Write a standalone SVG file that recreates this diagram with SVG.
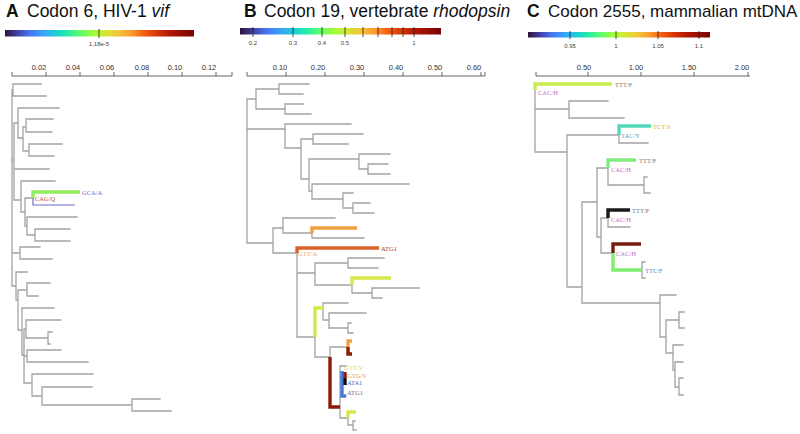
<svg xmlns="http://www.w3.org/2000/svg" width="800" height="434" viewBox="0 0 800 434">
<defs>
<linearGradient id="turbo" x1="0" y1="0" x2="1" y2="0">
<stop offset="0" stop-color="#30123b"/>
<stop offset="0.07" stop-color="#4145ab"/>
<stop offset="0.13" stop-color="#4675ed"/>
<stop offset="0.2" stop-color="#39a2fc"/>
<stop offset="0.27" stop-color="#1bcfd4"/>
<stop offset="0.33" stop-color="#24eca6"/>
<stop offset="0.4" stop-color="#61fc6c"/>
<stop offset="0.47" stop-color="#a4fc3b"/>
<stop offset="0.53" stop-color="#d1e834"/>
<stop offset="0.6" stop-color="#f3c63a"/>
<stop offset="0.67" stop-color="#fe9b2d"/>
<stop offset="0.73" stop-color="#f36315"/>
<stop offset="0.8" stop-color="#d93806"/>
<stop offset="0.87" stop-color="#b11901"/>
<stop offset="1" stop-color="#7a0403"/>
</linearGradient>
<style>
.title{font-family:"Liberation Sans",Arial,sans-serif;font-size:17.5px;fill:#111}
.lett{font-weight:bold}
.it{font-style:italic}
.cbl{font-family:"Liberation Sans",Arial,sans-serif;font-size:6px;fill:#444;text-anchor:middle}
.axl{font-family:"Liberation Sans",Arial,sans-serif;font-size:7.5px;fill:#333;text-anchor:middle}
.ax{stroke:#555;stroke-width:0.9;fill:none}
.tk{stroke:#222;stroke-width:0.8}
.br{stroke:#a3a3a3;stroke-width:1.3;fill:none;stroke-linecap:square}
.hl{fill:none;stroke-width:3.4;stroke-linecap:butt}
.lab{font-family:"Liberation Serif","Times New Roman",serif;font-size:6.5px}
</style>
</defs>

<!-- Titles -->
<text class="title" x="6" y="17"><tspan class="lett">A</tspan><tspan x="27">Codon 6, HIV-1 </tspan><tspan class="it">vif</tspan></text>
<text class="title" x="244" y="17"><tspan class="lett">B</tspan><tspan x="264">Codon 19, vertebrate </tspan><tspan class="it">rhodopsin</tspan></text>
<text class="title" x="527" y="17"><tspan class="lett">C</tspan><tspan x="548" style="font-size:17px">Codon 2555, mammalian mtDNA</tspan></text>

<!-- Colour bars -->
<g id="colorbarA">
<rect x="5" y="30" width="189" height="6.5" fill="url(#turbo)"/>
<line class="tk" x1="99" y1="29" x2="99" y2="38"/>
<text class="cbl" x="99" y="46">1.18e-5</text>
</g>
<g id="colorbarB">
<rect x="240" y="28" width="201" height="6.5" fill="url(#turbo)"/>
<g class="tk">
<line x1="253" y1="27" x2="253" y2="37"/><line x1="293" y1="27" x2="293" y2="37"/>
<line x1="322" y1="27" x2="322" y2="37"/><line x1="345" y1="27" x2="345" y2="37"/>
<line x1="363" y1="27" x2="363" y2="37"/><line x1="378" y1="27" x2="378" y2="37"/>
<line x1="392" y1="27" x2="392" y2="37"/><line x1="403" y1="27" x2="403" y2="37"/>
<line x1="414" y1="27" x2="414" y2="37"/>
</g>
<text class="cbl" x="253" y="45">0.2</text><text class="cbl" x="293" y="45">0.3</text>
<text class="cbl" x="322" y="45">0.4</text><text class="cbl" x="345" y="45">0.5</text>
<text class="cbl" x="414" y="45">1</text>
</g>
<g id="colorbarC">
<rect x="528" y="32" width="182" height="5.5" fill="url(#turbo)"/>
<g class="tk">
<line x1="570" y1="31" x2="570" y2="39"/><line x1="616" y1="31" x2="616" y2="39"/>
<line x1="658" y1="31" x2="658" y2="39"/><line x1="699" y1="31" x2="699" y2="39"/>
</g>
<text class="cbl" x="570" y="48">0.95</text><text class="cbl" x="616" y="48">1</text>
<text class="cbl" x="658" y="48">1.05</text><text class="cbl" x="699" y="48">1.1</text>
</g>

<!-- Scale axes -->
<g id="axisA">
<path class="ax" d="M12,76H232M12,72V76M46,72V76M80,72V76M114,72V76M148,72V76M182,72V76M216,72V76M232,72V76"/>
<text class="axl" x="39" y="70">0.02</text><text class="axl" x="73" y="70">0.04</text>
<text class="axl" x="107" y="70">0.06</text><text class="axl" x="142" y="70">0.08</text>
<text class="axl" x="175" y="70">0.10</text><text class="axl" x="209" y="70">0.12</text>
</g>
<g id="axisB">
<path class="ax" d="M247,76H485M247,72V76M286,72V76M325,72V76M364,72V76M403,72V76M442,72V76M481,72V76M485,72V76"/>
<text class="axl" x="280" y="70">0.10</text><text class="axl" x="318" y="70">0.20</text>
<text class="axl" x="357" y="70">0.30</text><text class="axl" x="396" y="70">0.40</text>
<text class="axl" x="435" y="70">0.50</text><text class="axl" x="474" y="70">0.60</text>
</g>
<g id="axisC">
<path class="ax" d="M536,76H750M536,72V76M588,72V76M641,72V76M694,72V76M748,72V76"/>
<text class="axl" x="584" y="70">0.50</text><text class="axl" x="636" y="70">1.00</text>
<text class="axl" x="689" y="70">1.50</text><text class="axl" x="742" y="70">2.00</text>
</g>

<!-- Tree A -->
<g id="connectors">
<g id="treeA">
<path class="br" d="M12,90V286
M12,90H13M13,84V96M13,84H41M13,96H46
M12,160H14M14,123V200
M14,123H18M18,108V138M18,108H59M18,138H23M23,127V151M23,127H26M26,119V132M26,119H53M26,132H52M23,151H29M29,144V156M29,144H62M29,156H54
M14,169H49
M14,200H21M21,181V212M21,181H55M21,212H25M25,198V226M25,198H33M25,226H27M27,217V235M27,217H77M27,235H35M35,229V241M35,229H70M35,241H70
M12,253H20M20,247V259M20,247H40M20,259H52
M12,286H16M16,272V300M16,272H27M16,300H18M18,290V330M18,290H27M27,283V296M27,283H50M27,296H38
M18,330H22M22,308V355M22,308H54M22,355H24M24,329V383
M24,329H26M26,320V338M26,320H61M26,338H48M48,332V344M48,332H52M48,344H50
M24,356H27M27,350V362M27,350H61M27,362H88
M24,383H32M32,374V396M32,374H93M32,396H42M42,387V405M42,387H92M42,405H132M132,399V411M132,399H160M132,411H171"/>
<path class="hl" stroke="#90ee60" d="M33,198V192H80"/>
<path fill="none" stroke="#6a6acc" stroke-width="1.2" d="M33,198V205H75"/>
</g>

<!-- Tree B -->
<g id="treeB">
<path class="br" d="M247,99V243
M247,99H256M256,89V109M256,89H279M279,84V94M279,84H309M279,94H303M256,109H285M285,104V114M285,104H303M285,114H311
M247,129H285M285,124V148M285,124H351M285,148H301M301,139V179M301,139H313M313,134V144M313,134H363M313,144H348
M301,179H309M309,159V191M309,159H359M359,154V169M359,154H390M359,169H368M368,164V174M368,164H388M368,174H390
M309,191H312M312,184V199M312,184H409M312,199H343M343,193V208M343,193H353M343,208H353M353,203V213M353,203H370M353,213H374
M247,243H273M273,228V253M273,228H283M283,218V233M283,218H335M283,233H312M312,233V238M312,238H364
M273,253H297M297,253V337
M297,273H315M315,263V285M315,263H348M348,258V268M348,258H384M348,268H378M315,285H352M352,285V293M352,293H372M372,288V298M372,288H419M372,298H382
M297,337H315M315,337V357
M323,303V320M323,303H348M323,320H329M329,313V328M329,313H366M329,328H348M348,323V333M348,323H351M348,333H353
M315,357H330M330,357V347H348
M340,366V418M340,366H346M340,378H345M340,396H346
M340,418H348M348,412V425M348,425H353M353,421V430M353,421H355M353,430H356"/>
<path class="hl" stroke="#f0a040" d="M312,233V228H357"/>
<path class="hl" stroke="#d9622b" d="M297,253V248H379"/>
<path class="hl" stroke="#d6e84a" d="M352,285V278H391"/>
<path class="hl" stroke="#d6e84a" d="M315,337V308H323"/>
<path class="hl" stroke="#f0a040" d="M348,347V341H352"/>
<path class="hl" stroke="#8b1a0a" d="M348,347V354H352"/>
<path class="hl" stroke="#8b1a0a" d="M330,357V407H340"/>
<path class="hl" stroke="#4a78d8" stroke-width="3" d="M342,371V396H346"/>
<path class="hl" stroke="#8b1a0a" stroke-width="3" d="M345,372V378"/>
<path class="hl" stroke="#111" stroke-width="3" d="M345,378V385"/>
<path class="hl" stroke="#d6e84a" stroke-width="3" d="M348,418V412H356"/>
</g>

<!-- Tree C -->
<g id="treeC">
<path class="br" d="M535,90V152
M535,109H569M569,101V118M569,101H608M569,118H624
M535,152H567M567,135V287
M567,135H619M619,135V143M619,143H648
M567,287H582M582,202V303
M582,202H597M597,168V237
M597,168H608M608,168V185M608,185H644M644,177V193M644,177H647M644,193H650
M597,237H601M601,218V253
M601,218H608M608,218V227M608,227H630
M601,253H613
M642,262V278M642,262H645M642,278H645
M582,303H660M660,295V337M660,295H676
M660,337H666M666,320V353M666,320H679M679,312V328M679,312H684M679,328H684
M666,353H673M673,345V370M673,345H683M673,370H675M675,362V387M675,362H683M675,387H679M679,378V395M679,378H683M679,395H683"/>
<path class="hl" stroke="#c8ec50" d="M535,90V84H612"/>
<path class="hl" stroke="#50d8b8" d="M619,135V126H651"/>
<path class="hl" stroke="#80ec80" d="M608,168V160H636"/>
<path class="hl" stroke="#1a1a1a" d="M608,218V210H630"/>
<path class="hl" stroke="#7a1a10" d="M613,253V244H641"/>
<path class="hl" stroke="#80ee70" d="M613,253V270H642"/>
</g>
</g>

<!-- Leaf labels -->
<g id="labelsA">
<text class="lab" x="82" y="194.5" fill="#6a6acc">GCA/A</text>
<text class="lab" x="35" y="200.5" fill="#c84a3a">CAG/Q</text>
</g>
<g id="labelsB">
<text class="lab" x="381" y="250.5" fill="#9a3a2a">ATG1</text>
<text class="lab" x="298" y="256" fill="#f4a46a">GTT/A</text>
<text class="lab" x="344" y="370" fill="#d8d860">GTT/V</text>
<text class="lab" x="347" y="378" fill="#e8a040">GTG/V</text>
<text class="lab" x="347" y="385" fill="#3a70d0">ATA1</text>
<text class="lab" x="347" y="395" fill="#7a6a8a">ATG1</text>
</g>
<g id="labelsC">
<text class="lab" x="615" y="86.5" fill="#777">TTT/F</text>
<text class="lab" x="538" y="94.5" fill="#c070c8">CAC/H</text>
<text class="lab" x="653" y="128.5" fill="#e0b030">TCT/S</text>
<text class="lab" x="621" y="137.5" fill="#60a0b0">TAC/Y</text>
<text class="lab" x="639" y="162.5" fill="#777">TTT/F</text>
<text class="lab" x="611" y="171.5" fill="#c070c8">CAC/H</text>
<text class="lab" x="632" y="212.5" fill="#777">TTT/F</text>
<text class="lab" x="611" y="221.5" fill="#c070c8">CAC/H</text>
<text class="lab" x="616" y="255.5" fill="#c070c8">CAC/H</text>
<text class="lab" x="645" y="272.5" fill="#4a8ad0">TTC/F</text>
</g>
</svg>
